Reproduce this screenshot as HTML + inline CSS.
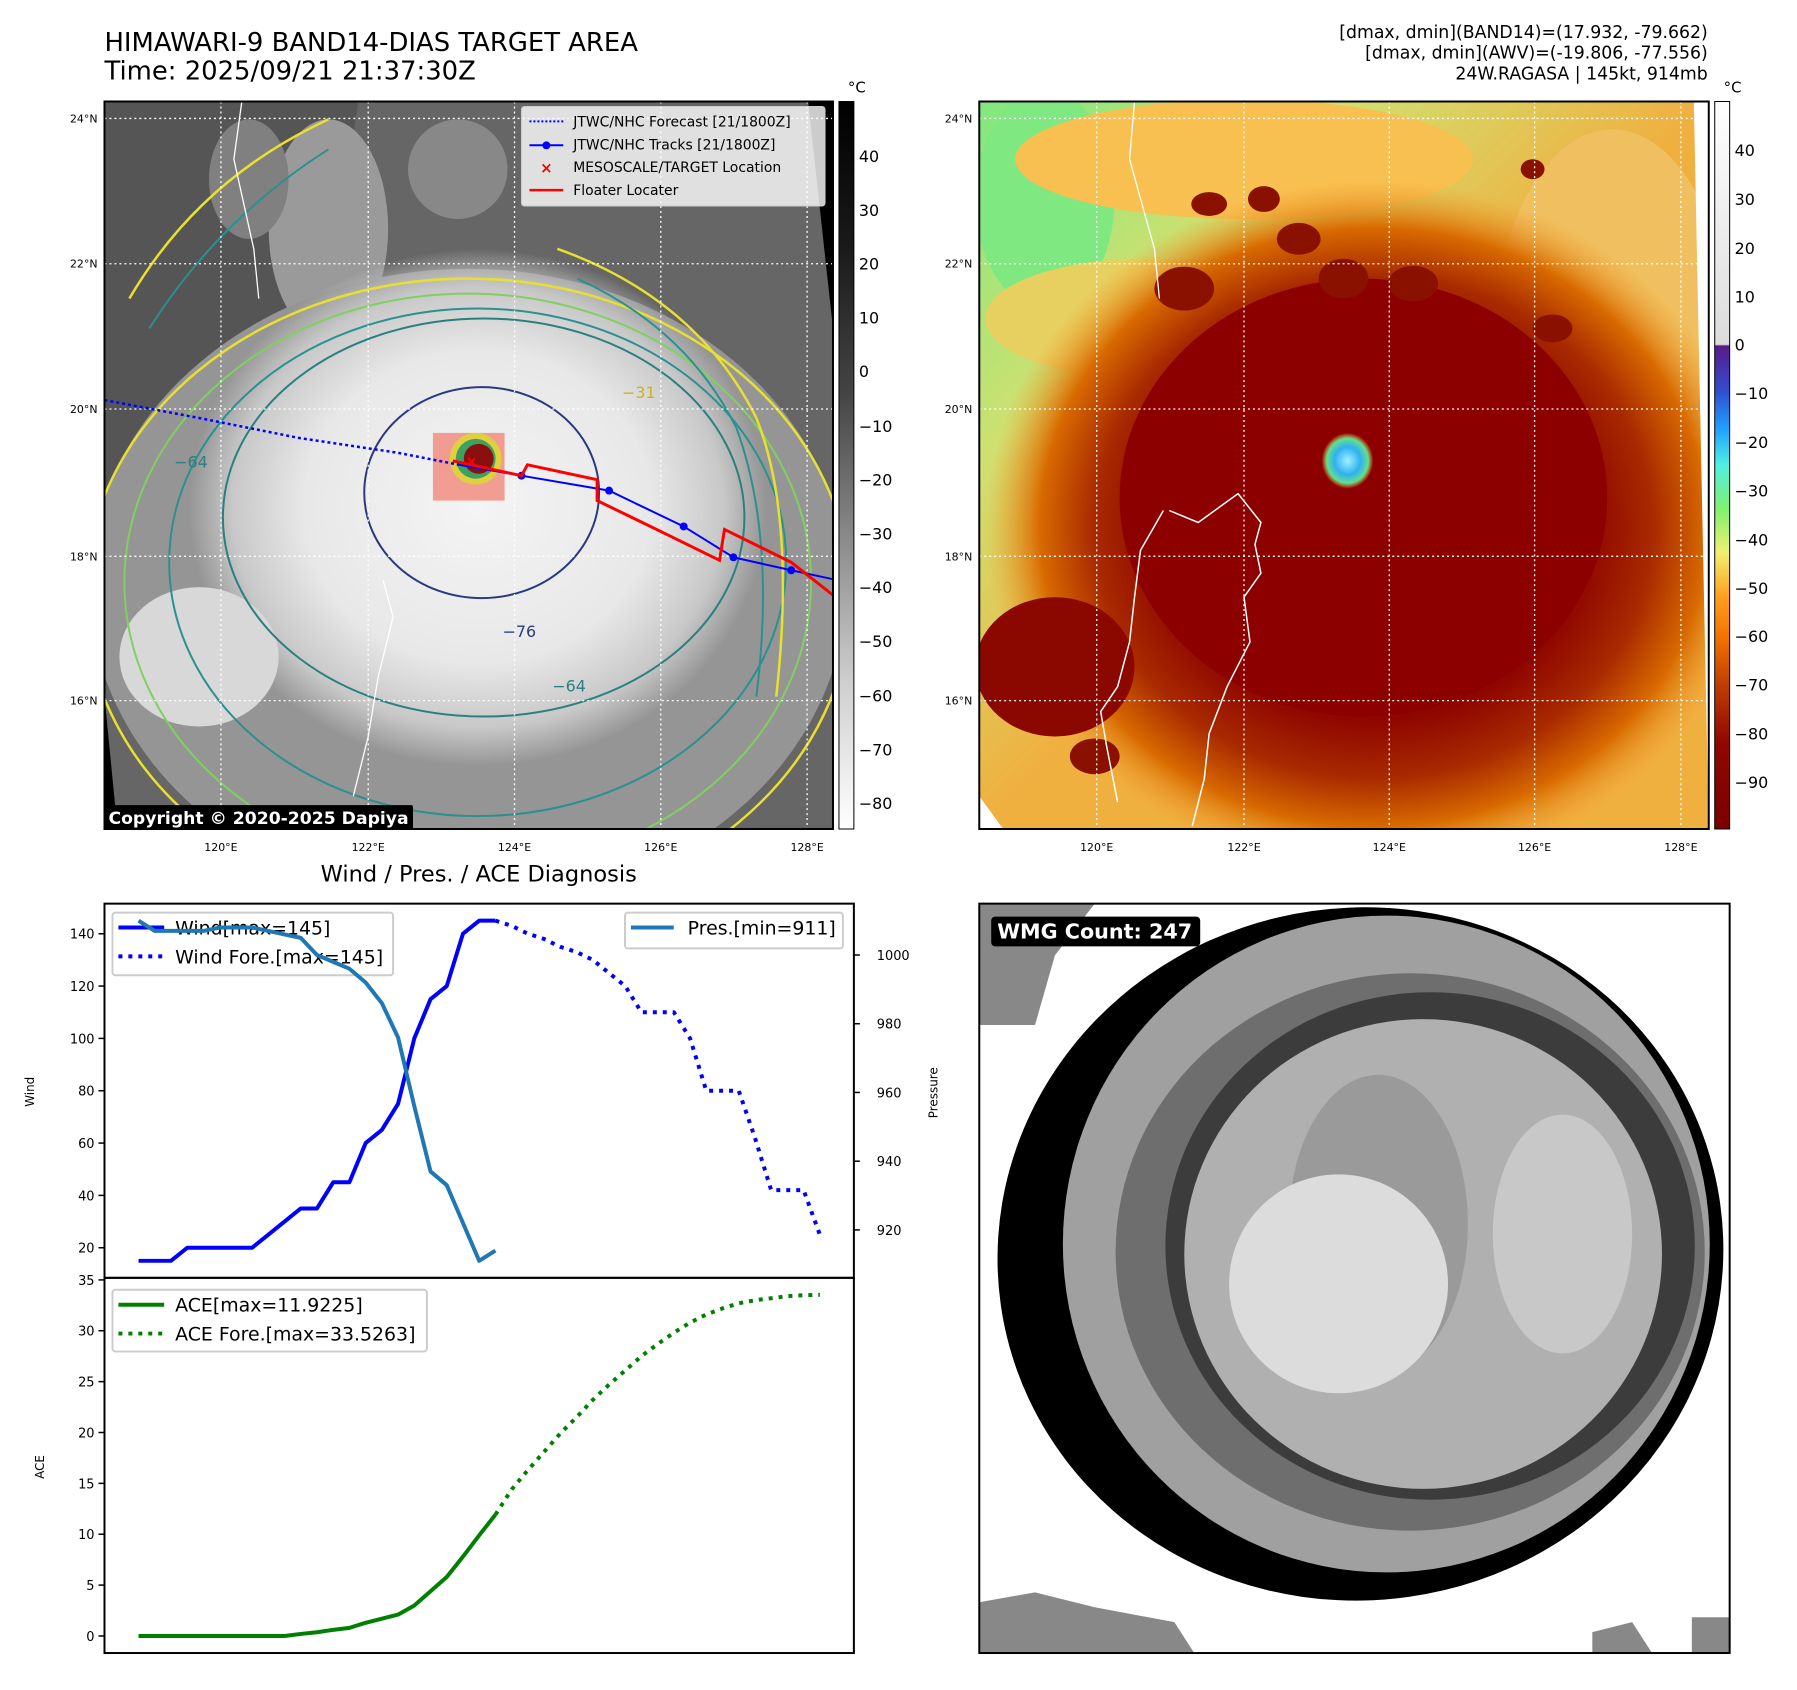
<!DOCTYPE html>
<html><head><meta charset="utf-8">
<style>
html,body{margin:0;padding:0;background:#fff;}
svg{display:block;font-family:"DejaVu Sans","Liberation Sans",sans-serif;}
</style></head>
<body>
<svg id="root" width="1797" height="1690" viewBox="0 0 1797 1690" xmlns="http://www.w3.org/2000/svg">
<defs>
  <radialGradient id="stormW" cx="0.5" cy="0.5" r="0.5">
    <stop offset="0" stop-color="#f4f4f4"/>
    <stop offset="0.6" stop-color="#e8e8e8"/>
    <stop offset="0.85" stop-color="#c8c8c8"/>
    <stop offset="1" stop-color="#c8c8c8" stop-opacity="0"/>
  </radialGradient>
  <radialGradient id="stormR" cx="0.5" cy="0.5" r="0.5">
    <stop offset="0" stop-color="#8a0000"/>
    <stop offset="0.55" stop-color="#8f0500"/>
    <stop offset="0.72" stop-color="#a82a00"/>
    <stop offset="0.86" stop-color="#d86a00"/>
    <stop offset="1" stop-color="#f0a030" stop-opacity="0"/>
  </radialGradient>
  <radialGradient id="eyeG" cx="0.5" cy="0.5" r="0.5">
    <stop offset="0" stop-color="#a0f0ff"/>
    <stop offset="0.5" stop-color="#30b0f0"/>
    <stop offset="0.8" stop-color="#60e090"/>
    <stop offset="1" stop-color="#e8d040" stop-opacity="0"/>
  </radialGradient>
  <linearGradient id="cbGray" x1="0" y1="0" x2="0" y2="1">
    <stop offset="0" stop-color="#000"/>
    <stop offset="0.2" stop-color="#1a1a1a"/>
    <stop offset="0.4" stop-color="#444"/>
    <stop offset="0.6" stop-color="#8a8a8a"/>
    <stop offset="0.8" stop-color="#cfcfcf"/>
    <stop offset="1" stop-color="#fff"/>
  </linearGradient>
  <linearGradient id="cbColor" x1="0" y1="0" x2="0" y2="1">
    <stop offset="0" stop-color="#ffffff"/>
    <stop offset="0.334" stop-color="#dcdcdc"/>
    <stop offset="0.336" stop-color="#5a1a8a"/>
    <stop offset="0.40" stop-color="#3050d0"/>
    <stop offset="0.45" stop-color="#20a0ff"/>
    <stop offset="0.50" stop-color="#50f0e0"/>
    <stop offset="0.56" stop-color="#80f070"/>
    <stop offset="0.62" stop-color="#f0f070"/>
    <stop offset="0.68" stop-color="#ffa020"/>
    <stop offset="0.74" stop-color="#f07000"/>
    <stop offset="0.80" stop-color="#c04000"/>
    <stop offset="0.88" stop-color="#900800"/>
    <stop offset="1" stop-color="#7a0000"/>
  </linearGradient>
  <linearGradient id="bgR" x1="0" y1="0" x2="1" y2="1">
    <stop offset="0" stop-color="#80e880"/>
    <stop offset="0.25" stop-color="#d0e070"/>
    <stop offset="0.5" stop-color="#f0b040"/>
    <stop offset="1" stop-color="#f0b040"/>
  </linearGradient>
  <clipPath id="clipL"><rect x="105" y="102" width="732" height="731"/></clipPath>
  <clipPath id="clipR"><rect x="984" y="102" width="733" height="731"/></clipPath>
  <clipPath id="clipW"><rect x="984" y="908" width="754" height="753"/></clipPath>
</defs>
<g transform="scale(0.9952)">
<!-- Titles -->
<text x="105" y="51" font-size="26">HIMAWARI-9 BAND14-DIAS TARGET AREA</text>
<text x="105" y="80" font-size="26">Time: 2025/09/21 21:37:30Z</text>
<g font-size="17.4" text-anchor="end">
  <text x="1716" y="38">[dmax, dmin](BAND14)=(17.932, -79.662)</text>
  <text x="1716" y="59">[dmax, dmin](AWV)=(-19.806, -77.556)</text>
  <text x="1716" y="80">24W.RAGASA | 145kt, 914mb</text>
</g>

<!-- LEFT MAP -->
<g clip-path="url(#clipL)">
  <rect x="105" y="102" width="732" height="731" fill="#666"/>
  <path d="M105,102 L360,102 L330,300 L250,500 L160,600 L105,560Z" fill="#555"/>
  <ellipse cx="330" cy="230" rx="60" ry="110" fill="#9a9a9a"/>
  <ellipse cx="250" cy="180" rx="40" ry="60" fill="#808080"/>
  <ellipse cx="460" cy="170" rx="50" ry="50" fill="#888"/>
  <ellipse cx="470" cy="590" rx="380" ry="320" fill="#959595"/>
  <ellipse cx="480" cy="510" rx="290" ry="260" fill="url(#stormW)"/>
  <ellipse cx="200" cy="660" rx="80" ry="70" fill="#d8d8d8"/>
  <ellipse cx="470" cy="600" rx="385" ry="320" fill="none" stroke="#e8e030" stroke-width="2.5"/>
  <ellipse cx="470" cy="585" rx="345" ry="290" fill="none" stroke="#80d060" stroke-width="2"/>
  <ellipse cx="480" cy="565" rx="310" ry="255" fill="none" stroke="#2a9090" stroke-width="2"/>
  <ellipse cx="486" cy="520" rx="262" ry="200" fill="none" stroke="#2a8080" stroke-width="2"/>
  <ellipse cx="484" cy="495" rx="118" ry="106" fill="none" stroke="#2a3a80" stroke-width="2"/>
  <path d="M130,300 Q200,180 330,120 M560,250 Q700,300 760,420 Q800,520 780,700" fill="none" stroke="#e8e030" stroke-width="2.5"/>
  <path d="M150,330 Q220,220 330,150 M580,280 Q690,330 740,430 Q780,540 760,700" fill="none" stroke="#2a9090" stroke-width="2"/>
  <text x="505" y="640" font-size="16" fill="#2a3a80">−76</text>
  <text x="625" y="400" font-size="16" fill="#d0b020">−31</text>
  <text x="555" y="695" font-size="16" fill="#2a8080">−64</text>
  <text x="175" y="470" font-size="16" fill="#2a8080">−64</text>
  <rect x="435" y="435" width="72" height="68" fill="#f08070" opacity="0.75"/>
  <circle cx="478" cy="461" r="26" fill="#e0d040"/>
  <circle cx="478" cy="461" r="20" fill="#40a060"/>
  <circle cx="481" cy="461" r="15" fill="#8a1010"/>
  <path d="M105,700 L118,833 L105,833Z" fill="#000"/>
  <path d="M812,102 L837,102 L837,330Z" fill="#000"/>
  <g stroke="#fff" stroke-width="1.3" stroke-dasharray="2,3">
    <line x1="105" x2="837" y1="119" y2="119"/><line x1="105" x2="837" y1="265" y2="265"/>
    <line x1="105" x2="837" y1="411" y2="411"/><line x1="105" x2="837" y1="559" y2="559"/>
    <line x1="105" x2="837" y1="704" y2="704"/>
    <line y1="102" y2="833" x1="222" x2="222"/><line y1="102" y2="833" x1="370" x2="370"/>
    <line y1="102" y2="833" x1="517" x2="517"/><line y1="102" y2="833" x1="664" x2="664"/>
    <line y1="102" y2="833" x1="811" x2="811"/>
  </g>
  <polyline points="105,402 200,420 300,440 400,455 461,467" fill="none" stroke="#0000ff" stroke-width="2.5" stroke-dasharray="3,3"/>
  <polyline points="461,467 524,478 612,493 687,529 737,560 795,573 837,582" fill="none" stroke="#0000ff" stroke-width="2"/>
  <g fill="#0000ff"><circle cx="524" cy="478" r="4"/><circle cx="612" cy="493" r="4"/><circle cx="687" cy="529" r="4"/><circle cx="737" cy="560" r="4"/><circle cx="795" cy="573" r="4"/></g>
  <polyline points="455,463 524,478 530,467 600,482 600,503 668,536 723,563 728,532 795,565 837,598" fill="none" stroke="#ff0000" stroke-width="3"/>
  <text x="468" y="468" font-size="14" fill="#ff0000" font-weight="bold">×</text>
  <path d="M243,102 L235,160 L255,250 L260,300" fill="none" stroke="#fff" stroke-width="1.3"/>
  <path d="M385,583 L395,620 L380,680 L370,740 L355,800" fill="none" stroke="#fff" stroke-width="1.3"/>
</g>
<rect x="105" y="102" width="732" height="731" fill="none" stroke="#000" stroke-width="2"/>
<rect x="105" y="809" width="310" height="24" fill="#000" rx="2"/>
<text x="109" y="828" font-size="17.3" font-weight="bold" fill="#fff">Copyright © 2020-2025 Dapiya</text>

<g>
  <rect x="524" y="107" width="305" height="100" fill="#fff" fill-opacity="0.8" stroke="#ccc" rx="3"/>
  <line x1="532" x2="566" y1="122" y2="122" stroke="#0000ff" stroke-width="2" stroke-dasharray="2,2"/>
  <line x1="532" x2="566" y1="146" y2="146" stroke="#0000ff" stroke-width="2"/><circle cx="549" cy="146" r="4" fill="#0000ff"/>
  <text x="549" y="174" font-size="15" fill="#ff0000" text-anchor="middle" font-weight="bold">×</text>
  <line x1="532" x2="566" y1="191" y2="191" stroke="#ff0000" stroke-width="2.5"/>
  <g font-size="14"><text x="576" y="127">JTWC/NHC Forecast [21/1800Z]</text><text x="576" y="150">JTWC/NHC Tracks [21/1800Z]</text><text x="576" y="173">MESOSCALE/TARGET Location</text><text x="576" y="196">Floater Locater</text></g>
</g>

<g font-size="11" text-anchor="end">
  <text x="98" y="123">24°N</text><text x="98" y="269">22°N</text><text x="98" y="415">20°N</text><text x="98" y="563">18°N</text><text x="98" y="708">16°N</text>
</g>
<g font-size="11" text-anchor="middle">
  <text x="222" y="855">120°E</text><text x="370" y="855">122°E</text><text x="517" y="855">124°E</text><text x="664" y="855">126°E</text><text x="811" y="855">128°E</text>
</g>
<g font-size="11" text-anchor="end">
  <text x="977" y="123">24°N</text><text x="977" y="269">22°N</text><text x="977" y="415">20°N</text><text x="977" y="563">18°N</text><text x="977" y="708">16°N</text>
</g>
<g font-size="11" text-anchor="middle">
  <text x="1102" y="855">120°E</text><text x="1250" y="855">122°E</text><text x="1396" y="855">124°E</text><text x="1542" y="855">126°E</text><text x="1689" y="855">128°E</text>
</g>

<g>
  <text x="852" y="93" font-size="15">°C</text>
  <rect x="843" y="102" width="15" height="731" fill="url(#cbGray)" stroke="#000" stroke-width="1"/>
  <g font-size="16">
    <text x="863" y="163">40</text><text x="863" y="217">30</text><text x="863" y="271">20</text><text x="863" y="325">10</text><text x="863" y="379">0</text>
    <text x="863" y="434">−10</text><text x="863" y="488">−20</text><text x="863" y="542">−30</text><text x="863" y="596">−40</text><text x="863" y="650">−50</text>
    <text x="863" y="705">−60</text><text x="863" y="759">−70</text><text x="863" y="813">−80</text>
  </g>
</g>

<!-- RIGHT MAP -->
<g clip-path="url(#clipR)">
  <rect x="984" y="102" width="733" height="731" fill="url(#bgR)"/>
  <ellipse cx="1050" cy="200" rx="70" ry="110" fill="#80e880"/>
  <ellipse cx="1250" cy="160" rx="230" ry="60" fill="#f8c050"/>
  <ellipse cx="1620" cy="350" rx="120" ry="220" fill="#f0c060"/>
  <ellipse cx="1150" cy="320" rx="160" ry="60" fill="#e8d060"/>
  <ellipse cx="1380" cy="530" rx="390" ry="350" fill="url(#stormR)"/>
  <ellipse cx="1370" cy="500" rx="245" ry="220" fill="#8c0000"/>
  <ellipse cx="1060" cy="670" rx="80" ry="70" fill="#8a0800"/>
  <g fill="#8a1000">
    <ellipse cx="1215" cy="205" rx="18" ry="12"/><ellipse cx="1270" cy="200" rx="16" ry="13"/><ellipse cx="1305" cy="240" rx="22" ry="16"/>
    <ellipse cx="1350" cy="280" rx="25" ry="20"/><ellipse cx="1420" cy="285" rx="25" ry="18"/><ellipse cx="1540" cy="170" rx="12" ry="10"/>
    <ellipse cx="1190" cy="290" rx="30" ry="22"/><ellipse cx="1100" cy="760" rx="25" ry="18"/><ellipse cx="1560" cy="330" rx="20" ry="14"/>
  </g>
  <ellipse cx="1354" cy="463" rx="26" ry="28" fill="url(#eyeG)"/>
  <path d="M1702,102 L1717,102 L1717,833Z" fill="#fff"/>
  <path d="M984,800 L1008,833 L984,833Z" fill="#fff"/>
  <g stroke="#fff" stroke-width="1.3" stroke-dasharray="2,3">
    <line x1="984" x2="1717" y1="119" y2="119"/><line x1="984" x2="1717" y1="265" y2="265"/>
    <line x1="984" x2="1717" y1="411" y2="411"/><line x1="984" x2="1717" y1="559" y2="559"/>
    <line x1="984" x2="1717" y1="704" y2="704"/>
    <line y1="102" y2="833" x1="1102" x2="1102"/><line y1="102" y2="833" x1="1250" x2="1250"/>
    <line y1="102" y2="833" x1="1396" x2="1396"/><line y1="102" y2="833" x1="1542" x2="1542"/>
    <line y1="102" y2="833" x1="1689" x2="1689"/>
  </g>
  <path d="M1175,513 L1204,525 L1244,496 L1267,525 L1261,547 L1267,576 L1250,600 L1256,645 L1233,690 L1215,737 L1210,783 L1198,830 M1169,513 L1146,553 L1140,600 L1135,645 L1123,690 L1106,715 L1112,750 L1123,806" fill="none" stroke="#fff" stroke-width="1.5"/>
  <path d="M1140,102 L1135,160 L1160,250 L1165,300" fill="none" stroke="#fff" stroke-width="1.3"/>
</g>
<rect x="984" y="102" width="733" height="731" fill="none" stroke="#000" stroke-width="2"/>

<g>
  <text x="1732" y="93" font-size="15">°C</text>
  <rect x="1723" y="102" width="15" height="731" fill="url(#cbColor)" stroke="#000" stroke-width="1"/>
  <g font-size="16">
    <text x="1743" y="157">40</text><text x="1743" y="206">30</text><text x="1743" y="255">20</text><text x="1743" y="304">10</text><text x="1743" y="352">0</text>
    <text x="1743" y="401">−10</text><text x="1743" y="450">−20</text><text x="1743" y="499">−30</text><text x="1743" y="548">−40</text><text x="1743" y="597">−50</text>
    <text x="1743" y="645">−60</text><text x="1743" y="694">−70</text><text x="1743" y="743">−80</text><text x="1743" y="792">−90</text>
  </g>
</g>

<!-- WMG panel -->
<g clip-path="url(#clipW)">
  <rect x="984" y="908" width="754" height="753" fill="#fff"/>
  <path d="M984,908 L1100,908 L1060,960 L1040,1030 L984,1030Z" fill="#888"/>
  <path d="M984,1610 L1040,1600 L1100,1615 L1180,1630 L1200,1661 L984,1661Z" fill="#888"/>
  <path d="M1600,1640 L1640,1630 L1660,1661 L1600,1661Z M1700,1625 L1738,1625 L1738,1661 L1700,1661Z" fill="#888"/>
  <ellipse cx="1367" cy="1260" rx="365" ry="348" fill="#000" transform="rotate(-8 1367 1260)"/>
  <ellipse cx="1393" cy="1250" rx="325" ry="330" fill="#a0a0a0"/>
  <ellipse cx="1417" cy="1258" rx="296" ry="280" fill="#6e6e6e"/>
  <ellipse cx="1437" cy="1252" rx="266" ry="255" fill="#3c3c3c"/>
  <ellipse cx="1430" cy="1260" rx="240" ry="236" fill="#b0b0b0"/>
  <ellipse cx="1385" cy="1230" rx="90" ry="150" fill="#9a9a9a"/>
  <ellipse cx="1345" cy="1290" rx="110" ry="110" fill="#dcdcdc"/>
  <ellipse cx="1570" cy="1240" rx="70" ry="120" fill="#c8c8c8"/>
</g>
<rect x="984" y="908" width="754" height="753" fill="none" stroke="#000" stroke-width="2"/>
<rect x="996" y="921" width="210" height="30" rx="4" fill="#000"/>
<text x="1002" y="943" font-size="20.8" font-weight="bold" fill="#fff">WMG Count: 247</text>

<!-- Diagnosis chart -->
<text x="481" y="886" font-size="22.6" text-anchor="middle">Wind / Pres. / ACE Diagnosis</text>
<g id="chart"></g>
</g>
</svg>
<script>
const windObs = [15,15,15,20,20,20,20,20,25,30,35,35,45,45,60,65,75,100,115,120,140,145,145];
const windFore = [145,143,140,138,135,133,130,125,120,110,110,110,100,80,80,80,62,42,42,42,25];
const presObs = [1010,1007,1007,1007,1007,1008,1008,1008,1007,1006,1005,1000,998,996,992,986,976,956,937,933,922,911,914];
const aceObs = [0,0,0,0,0,0,0,0,0,0,0.2,0.37,0.6,0.8,1.3,1.7,2.1,3.0,4.4,5.8,7.8,9.9,11.9225];
const aceFore = [11.9225,14.4,16.3,18.1,19.9,21.5,23.2,24.7,26.1,27.5,28.7,29.8,30.8,31.6,32.2,32.7,33.0,33.2,33.4,33.5,33.5263];
const windTicks = [20,40,60,80,100,120,140];
const presTicks = [920,940,960,980,1000];
const aceTicks = [0,5,10,15,20,25,30,35];

const NS = 'http://www.w3.org/2000/svg';
const g = document.getElementById('chart');
const L = 105, R = 858, T1 = 908, B1 = 1284, T2 = 1284, B2 = 1661;
const nTot = windObs.length + windFore.length - 2;
const xMin = -0.05 * nTot, xMax = nTot * 1.05;
function x(i){ return L + (i - xMin) / (xMax - xMin) * (R - L); }
function pad(arr){ const mn = Math.min(...arr), mx = Math.max(...arr), p = (mx - mn) * 0.05; return [mn - p, mx + p]; }
const wR = pad(windObs.concat(windFore));
const pR = pad(presObs);
const aR = pad(aceObs.concat(aceFore));
function yW(v){ return B1 - (v - wR[0]) / (wR[1] - wR[0]) * (B1 - T1); }
function yP(v){ return B1 - (v - pR[0]) / (pR[1] - pR[0]) * (B1 - T1); }
function yA(v){ return B2 - (v - aR[0]) / (aR[1] - aR[0]) * (B2 - T2); }

function mk(tag, attrs, parent){ const e = document.createElementNS(NS, tag); for (const k in attrs) e.setAttribute(k, attrs[k]); (parent||g).appendChild(e); return e; }
function line(vals, off, fy, color, dash, name){
  const pts = vals.map((v,i)=> x(i+off).toFixed(1)+','+fy(v).toFixed(1)).join(' ');
  const p = mk('polyline', {points: pts, fill:'none', stroke: color, 'stroke-width': 4, 'stroke-linejoin':'round'});
  if (dash) p.setAttribute('stroke-dasharray', '4,6');
  
  
  return p;
}
function txt(s, xx, yy, size, anchor, name){
  const t = mk('text', {x: xx, y: yy, 'font-size': size, 'text-anchor': anchor||'start'});
  t.textContent = s;
  
  
  return t;
}
mk('rect',{x:L,y:T1,width:R-L,height:B2-T1,fill:'#fff'});
windTicks.forEach(v=>{ const y=yW(v); mk('line',{x1:L-6,x2:L,y1:y,y2:y,stroke:'#000','stroke-width':1.5}); txt(String(v), L-10, y+5, 13, 'end', 'wind-tick-label'); });
presTicks.forEach(v=>{ const y=yP(v); mk('line',{x1:R,x2:R+6,y1:y,y2:y,stroke:'#000','stroke-width':1.5}); txt(String(v), R+23, y+5, 13, 'start', 'pressure-tick-label'); });
aceTicks.forEach(v=>{ const y=yA(v); mk('line',{x1:L-6,x2:L,y1:y,y2:y,stroke:'#000','stroke-width':1.5}); txt(String(v), L-10, y+5, 13, 'end', 'ace-tick-label'); });
const wl = txt('Wind', 34, 1097, 12, 'middle', 'wind-axis-title'); wl.setAttribute('transform','rotate(-90 34 1097)');
const pl = txt('Pressure', 942, 1098, 12, 'middle', 'pressure-axis-title'); pl.setAttribute('transform','rotate(-90 942 1098)');
const al = txt('ACE', 44, 1474, 12, 'middle', 'ace-axis-title'); al.setAttribute('transform','rotate(-90 44 1474)');

line(windObs, 0, yW, '#0000ff', false, 'wind-line');
line(windFore, windObs.length-1, yW, '#0000ff', true, 'wind-forecast-line');
mk('rect',{x:113,y:917,width:282,height:63,rx:3,fill:'#fff','fill-opacity':0.8,stroke:'#ccc','stroke-width':2});
mk('line',{x1:119,x2:165,y1:932,y2:932,stroke:'#0000ff','stroke-width':4});
mk('line',{x1:119,x2:165,y1:961,y2:961,stroke:'#0000ff','stroke-width':4,'stroke-dasharray':'4,6'});
txt('Wind[max=' + Math.max(...windObs) + ']', 176, 939, 19, 'start', 'legend-wind');
txt('Wind Fore.[max=' + Math.max(...windFore) + ']', 176, 968, 19, 'start', 'legend-wind-forecast');
line(presObs, 0, yP, '#1f77b4', false, 'pressure-line');
mk('rect',{x:628,y:917,width:219,height:36,rx:3,fill:'#fff','fill-opacity':0.8,stroke:'#ccc','stroke-width':2});
mk('line',{x1:634,x2:677,y1:932,y2:932,stroke:'#1f77b4','stroke-width':4});
txt('Pres.[min=' + Math.min(...presObs) + ']', 691, 939, 19, 'start', 'legend-pressure');
line(aceObs, 0, yA, '#008000', false, 'ace-line');
line(aceFore, aceObs.length-1, yA, '#008000', true, 'ace-forecast-line');
mk('rect',{x:113,y:1296,width:316,height:62,rx:3,fill:'#fff','fill-opacity':0.8,stroke:'#ccc','stroke-width':2});
mk('line',{x1:119,x2:165,y1:1311,y2:1311,stroke:'#008000','stroke-width':4});
mk('line',{x1:119,x2:165,y1:1340,y2:1340,stroke:'#008000','stroke-width':4,'stroke-dasharray':'4,6'});
txt('ACE[max=' + Math.max(...aceObs) + ']', 176, 1318, 19, 'start', 'legend-ace');
txt('ACE Fore.[max=' + Math.max(...aceFore) + ']', 176, 1347, 19, 'start', 'legend-ace-forecast');
mk('rect',{x:L,y:T1,width:R-L,height:B1-T1,fill:'none',stroke:'#000','stroke-width':2});
mk('rect',{x:L,y:T2,width:R-L,height:B2-T2,fill:'none',stroke:'#000','stroke-width':2});
</script>
</body></html>
